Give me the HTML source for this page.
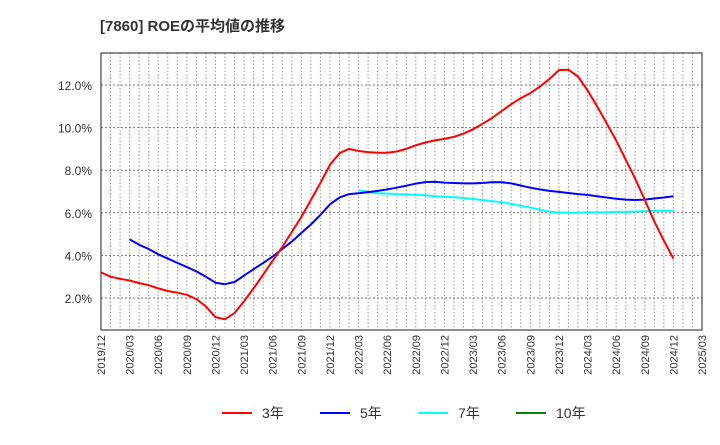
<!DOCTYPE html>
<html><head><meta charset="utf-8"><style>
body{margin:0;background:#fff;font-family:"Liberation Sans","Noto Sans CJK JP",sans-serif}
</style></head><body>
<svg id="c" width="720" height="440" xmlns="http://www.w3.org/2000/svg">
<text x="100" y="31" font-size="15" font-weight="bold" fill="#333">[7860]  ROEの平均値の推移</text>
<g id="grid"></g><g id="series"></g><g id="axes"></g>
<g font-size="14" fill="#333">
<line x1="222" y1="413" x2="252" y2="413" stroke="#f00" stroke-width="2"/><text x="262" y="418">3年</text>
<line x1="320" y1="413" x2="350" y2="413" stroke="#00f" stroke-width="2"/><text x="360" y="418">5年</text>
<line x1="418" y1="413" x2="448" y2="413" stroke="#0ff" stroke-width="2"/><text x="458" y="418">7年</text>
<line x1="516" y1="413" x2="546" y2="413" stroke="#080" stroke-width="2"/><text x="556" y="418">10年</text>
</g>
</svg>
<script>
const xLabels=["2019/12","2020/03","2020/06","2020/09","2020/12","2021/03","2021/06","2021/09","2021/12","2022/03","2022/06","2022/09","2022/12","2023/03","2023/06","2023/09","2023/12","2024/03","2024/06","2024/09","2024/12","2025/03"];
const yTicks=[2,4,6,8,10,12];
const red=[3.2,3.0,2.9,2.82,2.7,2.6,2.45,2.33,2.25,2.15,1.95,1.6,1.1,1.0,1.3,1.85,2.45,3.1,3.75,4.4,5.1,5.8,6.6,7.4,8.25,8.8,9.0,8.9,8.85,8.82,8.82,8.88,9.0,9.17,9.3,9.4,9.47,9.57,9.72,9.92,10.18,10.45,10.78,11.1,11.38,11.62,11.92,12.28,12.7,12.72,12.4,11.75,11.0,10.2,9.4,8.5,7.6,6.6,5.6,4.7,3.85];
const blue=[null,null,null,4.75,4.5,4.3,4.05,3.85,3.65,3.45,3.25,3.0,2.72,2.65,2.75,3.05,3.35,3.65,3.95,4.3,4.65,5.05,5.45,5.9,6.4,6.72,6.88,6.92,6.97,7.03,7.1,7.18,7.27,7.37,7.44,7.46,7.42,7.4,7.38,7.38,7.4,7.44,7.43,7.38,7.28,7.18,7.1,7.03,6.98,6.93,6.88,6.84,6.78,6.72,6.66,6.62,6.6,6.62,6.67,6.72,6.78];
const cyan=[null,null,null,null,null,null,null,null,null,null,null,null,null,null,null,null,null,null,null,null,null,null,null,null,null,null,null,7.05,6.98,6.92,6.9,6.88,6.87,6.85,6.82,6.78,6.76,6.73,6.7,6.65,6.6,6.55,6.5,6.42,6.33,6.25,6.15,6.05,6.02,6.0,6.0,6.02,6.03,6.03,6.04,6.05,6.06,6.08,6.1,6.1,6.1];
const L=101,R=702,T=53,B=330,months=63;
const xs=i=>L+(R-L)*i/months;
const ys=v=>340.6-21.3*v;
const NS="http://www.w3.org/2000/svg";
function mk(tag,attrs,parent){const e=document.createElementNS(NS,tag);for(const k in attrs)e.setAttribute(k,attrs[k]);parent.appendChild(e);return e;}
const grid=document.getElementById('grid'),axes=document.getElementById('axes'),ser=document.getElementById('series');
for(let i=1;i<months;i++){const l=mk('line',{x1:xs(i),x2:xs(i),y1:T,y2:B,stroke:'#999','stroke-dasharray':'1.5,2','stroke-width':1},grid);

}
yTicks.forEach(v=>{const l=mk('line',{x1:L,x2:R,y1:ys(v),y2:ys(v),stroke:'#777','stroke-dasharray':'2,2','stroke-width':1},grid);


const t=mk('text',{x:92,y:ys(v)+5,'text-anchor':'end','font-size':12,fill:'#333'},axes);t.textContent=v.toFixed(1)+'%';

});
const fr=mk('rect',{x:L,y:T,width:R-L,height:B-T,fill:'none',stroke:'#444','stroke-width':1.2},axes);


xLabels.forEach((s,k)=>{const x=xs(k*3);const t=mk('text',{x:0,y:0,'text-anchor':'end','font-size':11,fill:'#333',transform:`translate(${x+4},335) rotate(-90)`},axes);t.textContent=s;

});
function draw(arr,color,name){let d='';let pen=false;arr.forEach((v,i)=>{if(v==null){pen=false;return;}d+=(pen?'L':'M')+xs(i).toFixed(1)+','+ys(v).toFixed(1);pen=true;});
const p=mk('path',{d:d,fill:'none',stroke:color,'stroke-width':2,'stroke-linejoin':'round'},ser);

}
draw(cyan,'#0ff','line-7y');
draw(blue,'#00f','line-5y');
draw(red,'#f00','line-3y');
</script>
</body></html>
